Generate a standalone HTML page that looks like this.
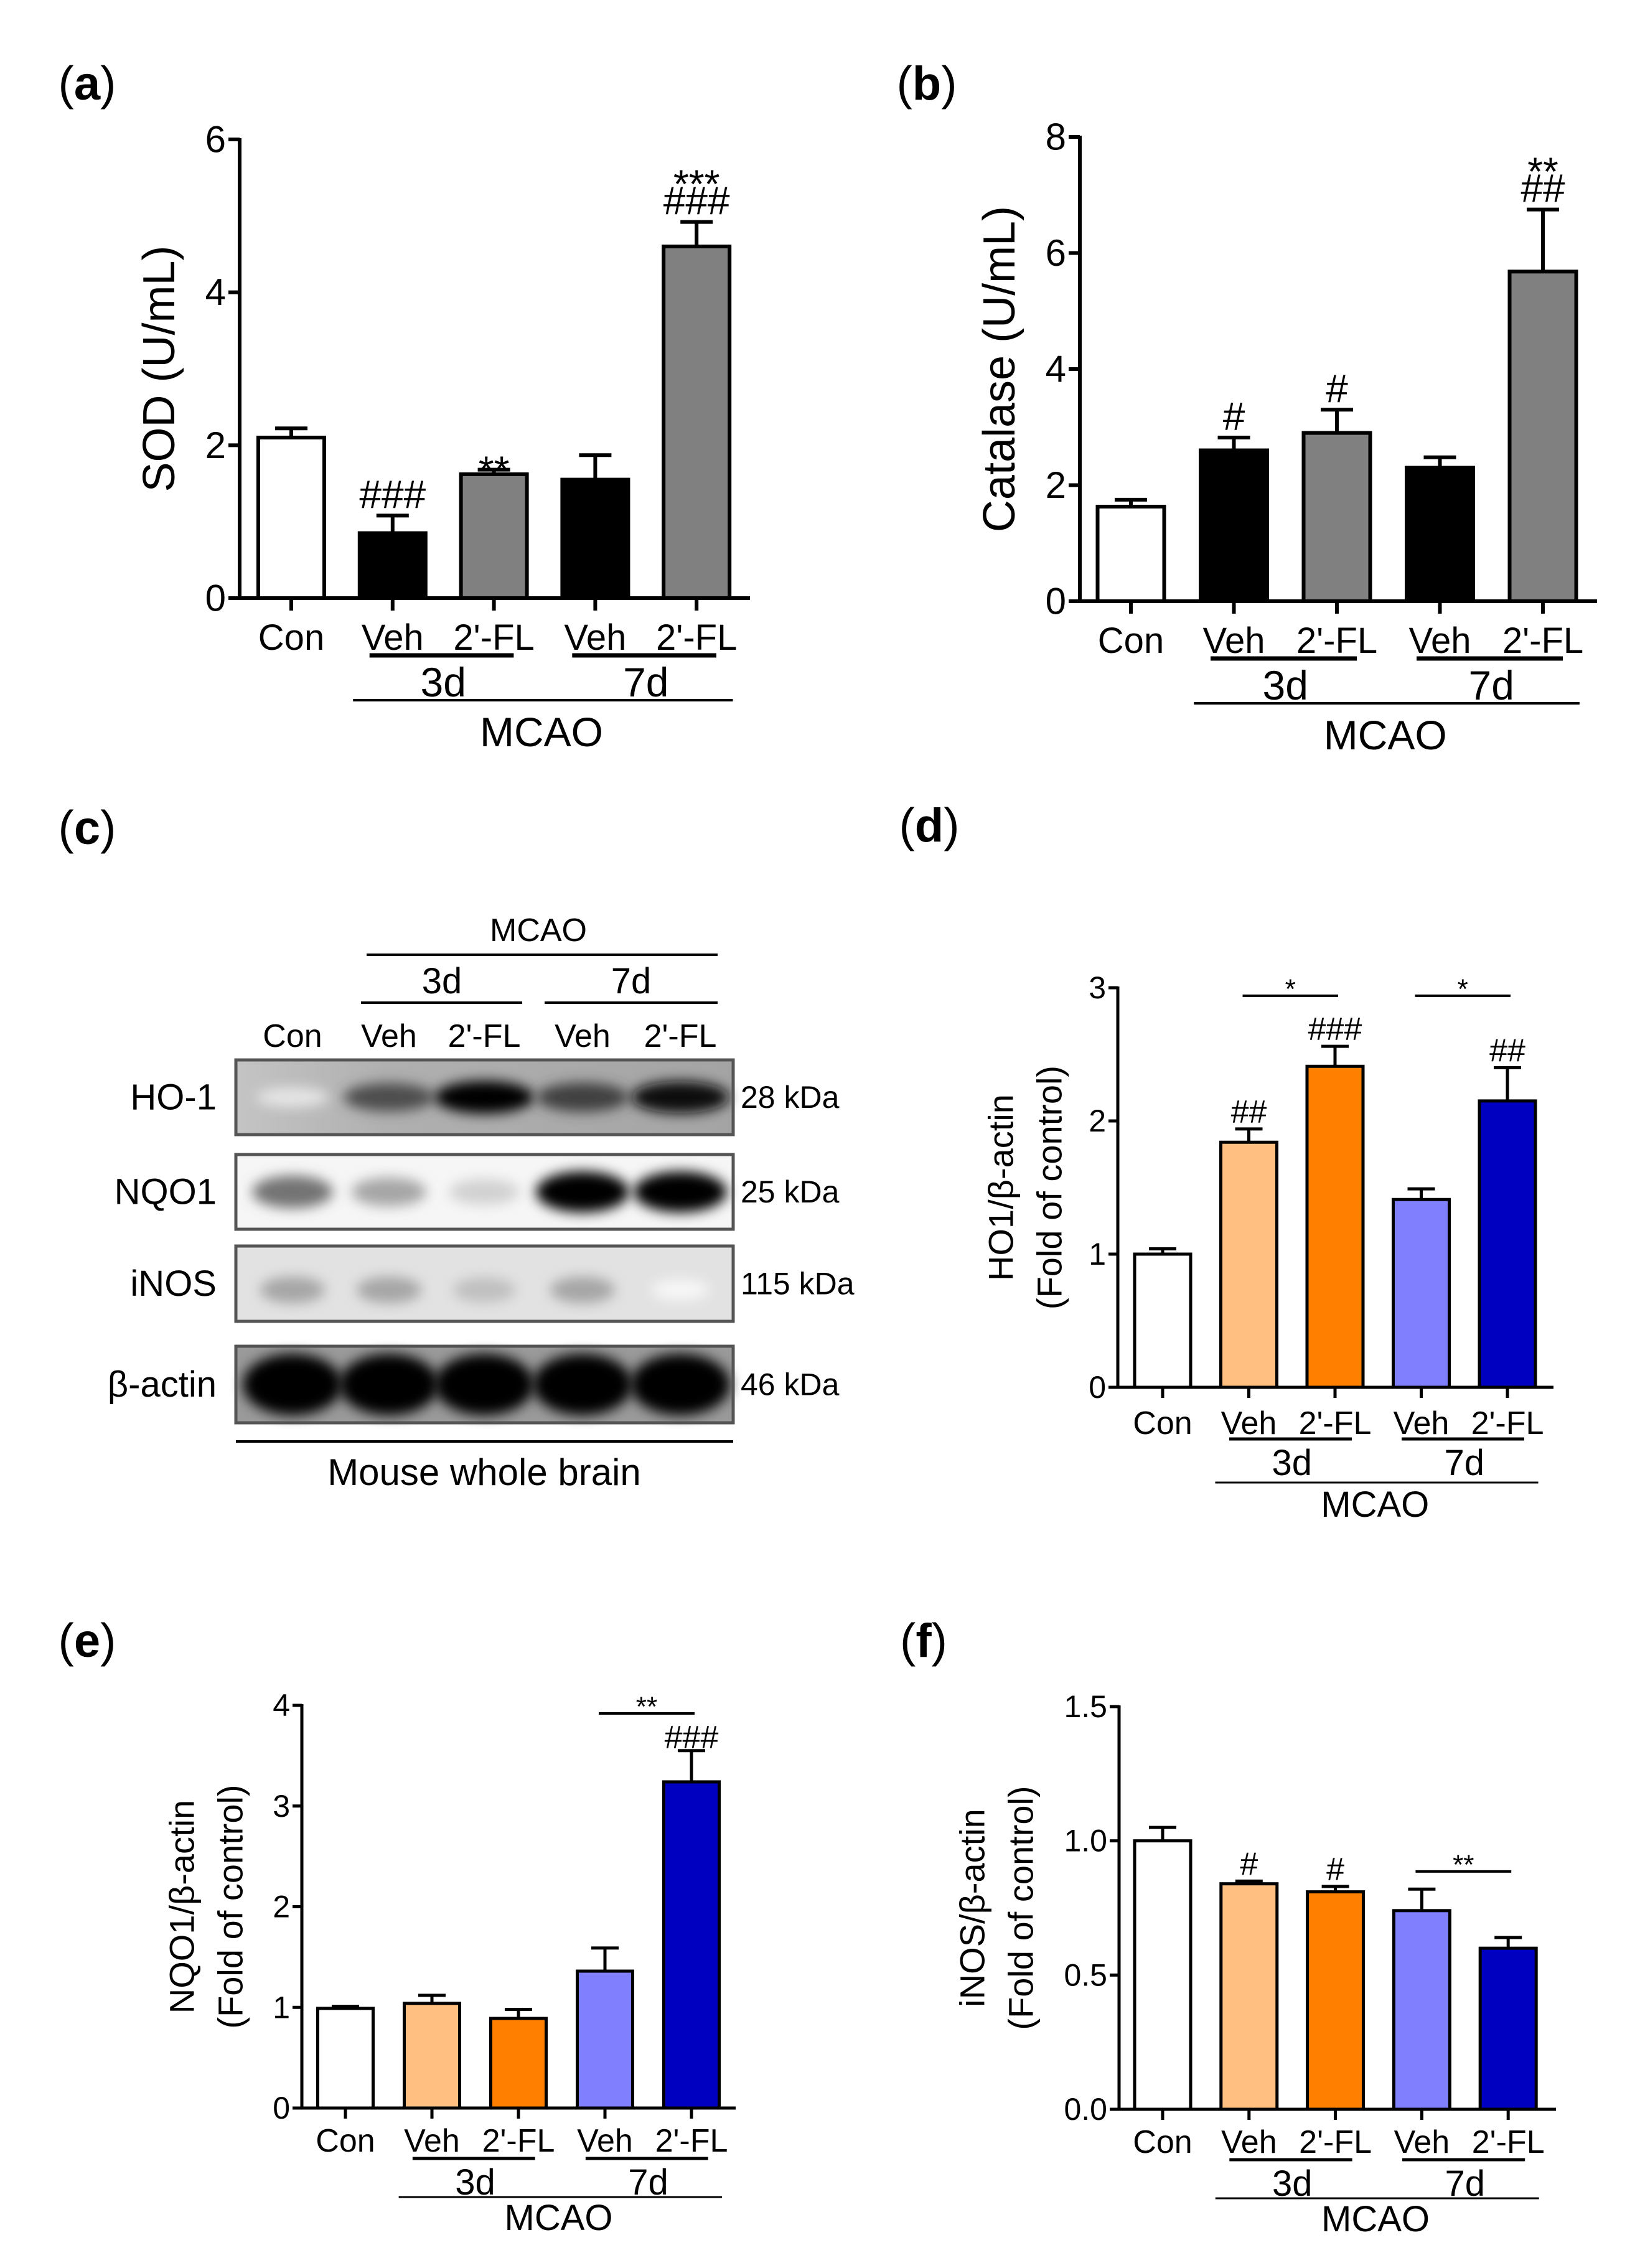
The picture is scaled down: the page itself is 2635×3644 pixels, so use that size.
<!DOCTYPE html>
<html><head><meta charset="utf-8">
<style>
html,body{margin:0;padding:0;background:#fff;}
svg{display:block;font-family:"Liberation Sans",Arial,sans-serif;}
</style></head>
<body>
<svg id="fig" width="2635" height="3644" viewBox="0 0 2635 3644" xmlns="http://www.w3.org/2000/svg">
<defs>
<filter id="blur" x="-50%" y="-50%" width="200%" height="200%"><feGaussianBlur stdDeviation="10"/></filter>
<linearGradient id="hoBg" x1="0" x2="1" y1="0" y2="0"><stop offset="0" stop-color="#c4c4c4"/><stop offset="0.3" stop-color="#b0b0b0"/><stop offset="1" stop-color="#a4a4a4"/></linearGradient>
</defs>
</svg>
<script>
// ---------- data ----------
const groups = ["Con","Veh","2'-FL","Veh","2'-FL"];
const aValues = [2.1, 0.85, 1.62, 1.55, 4.6];
const aErrors = [0.12, 0.23, 0.06, 0.32, 0.32];
const aAnnots = [[], ["###"], ["**"], [], ["###","***"]];
const aTicks = ["0","2","4","6"];
const bValues = [1.63, 2.6, 2.9, 2.3, 5.68];
const bErrors = [0.12, 0.22, 0.4, 0.18, 1.07];
const bAnnots = [[], ["#"], ["#"], [], ["##","**"]];
const bTicks = ["0","2","4","6","8"];
const dValues = [1.0, 1.84, 2.41, 1.41, 2.15];
const dErrors = [0.04, 0.1, 0.15, 0.08, 0.25];
const dAnnots = [[], ["##"], ["###"], [], ["##"]];
const dTicks = ["0","1","2","3"];
const dSig = [[1,2,2.94,"*"],[3,4,2.94,"*"]];
const eValues = [0.99, 1.04, 0.89, 1.36, 3.24];
const eErrors = [0.02, 0.08, 0.09, 0.23, 0.31];
const eAnnots = [[], [], [], [], ["###"]];
const eTicks = ["0","1","2","3","4"];
const eSig = [[3,4,3.92,"**"]];
const fValues = [1.0, 0.84, 0.81, 0.74, 0.6];
const fErrors = [0.05, 0.01, 0.02, 0.08, 0.04];
const fAnnots = [[], ["#"], ["#"], [], []];
const fTicks = ["0.0","0.5","1.0","1.5"];
const fSig = [[3,4,0.886,"**"]];
const blotLanes = ["Con","Veh","2'-FL","Veh","2'-FL"];
const blotProteins = ["HO-1","NQO1","iNOS","β-actin"];
const blotSizes = ["28 kDa","25 kDa","115 kDa","46 kDa"];
const ho1Bands = [0.1, 0.7, 1.0, 0.75, 0.95];
const nqo1Bands = [0.55, 0.35, 0.18, 1.0, 1.0];
const inosBands = [0.35, 0.35, 0.25, 0.35, 0.03];
const actinBands = [1.0, 1.0, 1.0, 1.0, 1.0];

const NS="http://www.w3.org/2000/svg";
const svg=document.getElementById('fig');
function mk(tag, attrs, parent){
  const el=document.createElementNS(NS,tag);
  for(const k in attrs) el.setAttribute(k,attrs[k]);
  (parent||svg).appendChild(el);
  return el;
}
function line(x1,y1,x2,y2,w,name,parent){
  const el=mk('line',{x1,y1,x2,y2,stroke:'#000','stroke-width':w},parent);
  
  
  return el;
}
function text(str,x,y,size,name,opts,parent){
  opts=opts||{};
  const el=mk('text',{x,y,'font-size':size,'text-anchor':opts.anchor||'middle',fill:'#000'},parent);
  if(opts.weight) el.setAttribute('font-weight',opts.weight);
  if(opts.transform) el.setAttribute('transform',opts.transform);
  if(opts.baseline) el.setAttribute('dominant-baseline',opts.baseline);
  el.textContent=str;
  
  
  return el;
}
function panelLabel(letter,cx,cy,size){
  const t=mk('text',{x:cx,y:cy,'font-size':size,'text-anchor':'middle','dominant-baseline':'central',fill:'#000'});
  t.innerHTML='(<tspan font-weight="bold">'+letter+'</tspan>)';
  
  
}

function drawPanel(c){
  const g=mk('g',{});
  
  
  const max=c.max;
  const y=v=>c.y0-(v/max)*(c.y0-c.ytop);
  const x=i=>c.x0+c.first+i*c.pitch;
  c.values.forEach((v,i)=>{
    const r=mk('rect',{x:x(i)-c.bw/2,y:y(v),width:c.bw,height:c.y0-y(v),fill:c.colors[i],stroke:'#000','stroke-width':c.sw},g);
    
    
    const top=y(v+c.errors[i]);
    line(x(i),y(v),x(i),top,c.sw,'error-bar-'+c.id+'-'+i,g);
    line(x(i)-c.cap,top,x(i)+c.cap,top,c.sw,'error-cap-'+c.id+'-'+i,g);
    let cur=top;
    c.annots[i].forEach((s,k)=>{
      let base;
      if(s[0]==='#'){ base=cur-c.gap; cur=base-0.72*c.af-4; }
      else { base=cur+0.36*c.af; cur=base-0.72*c.af+2; }
      text(s,x(i),base,c.af,'annotation-'+c.id+'-'+i+'-'+k,{},g);
    });
  });
  line(c.x0,c.ytop-2,c.x0,c.y0+c.sw/2,c.aw,'y-axis-'+c.id,g);
  line(c.x0-c.tl,c.y0,c.xend,c.y0,c.aw,'x-axis-'+c.id,g);
  c.ticks.forEach((t,i)=>{
    const v=i*(max/(c.ticks.length-1));
    line(c.x0-c.tl,y(v),c.x0,y(v),c.aw,'y-tick-'+c.id+'-'+i,g);
    text(t,c.x0-c.tl-4,y(v),c.tf,'y-tick-label-'+c.id+'-'+i,{anchor:'end',baseline:'central'},g);
  });
  groups.forEach((s,i)=>{
    line(x(i),c.y0,x(i),c.y0+c.tl+2,c.aw,'x-tick-'+c.id+'-'+i,g);
    text(s,x(i),c.y0+c.o.lab,c.lf,'x-label-'+c.id+'-'+i,{},g);
  });
  line(x(1)-c.bw*0.35,c.y0+c.o.ul,x(2)+c.bw*0.3,c.y0+c.o.ul,c.ulw,'underline-3d-'+c.id,g);
  line(x(3)-c.bw*0.35,c.y0+c.o.ul,x(4)+c.bw*0.3,c.y0+c.o.ul,c.ulw,'underline-7d-'+c.id,g);
  text('3d',(x(1)+x(2))/2,c.y0+c.o.d,c.df,'day-label-3d-'+c.id,{},g);
  text('7d',(x(3)+x(4))/2,c.y0+c.o.d,c.df,'day-label-7d-'+c.id,{},g);
  line(x(1)-c.bw*0.6,c.y0+c.o.ml,x(4)+c.bw*0.55,c.y0+c.o.ml,c.mlw,'mcao-line-'+c.id,g);
  text('MCAO',(x(1)+x(4))/2-5,c.y0+c.o.m,c.df,'mcao-label-'+c.id,{},g);
  const cy=(c.y0+c.ytop)/2;
  text(c.title[0],c.tx,cy,c.ttf,'y-axis-title-'+c.id,{baseline:'central',transform:'rotate(-90 '+c.tx+' '+cy+')'},g);
  if(c.title.length>1){
    text(c.title[1],c.tx+c.tgap,cy,c.ttf,'y-axis-subtitle-'+c.id,{baseline:'central',transform:'rotate(-90 '+(c.tx+c.tgap)+' '+cy+')'},g);
  }
  (c.sig||[]).forEach((s,k)=>{
    const yy=y(s[2]);
    const xa=x(s[0])-10, xb=x(s[1])+5;
    line(xa,yy,xb,yy,4,'sig-line-'+c.id+'-'+k,g);
    text(s[3],(xa+xb)/2,yy+4,c.af*0.85,'sig-label-'+c.id+'-'+k,{},g);
  });
}
const grayCols=['#fff','#000','#808080','#000','#808080'];
const colCols=['#fff','#ffbf80','#ff8000','#8080ff','#0000c0'];
const bigO={lab:83,ul:92,d:158,ml:164,m:238};
drawPanel({id:'a',values:aValues,errors:aErrors,annots:aAnnots,ticks:aTicks,max:6,x0:385,xend:1205,y0:961,ytop:224,first:83,pitch:162.8,bw:106,sw:6,aw:6,tl:18,cap:26,colors:grayCols,af:64,gap:12,tf:60,lf:58,df:66,ulw:7,mlw:4,o:bigO,title:['SOD (U/mL)'],tx:256,ttf:72});
drawPanel({id:'b',values:bValues,errors:bErrors,annots:bAnnots,ticks:bTicks,max:8,x0:1735,xend:2566,y0:966,ytop:220,first:82,pitch:165.5,bw:107,sw:6,aw:6,tl:18,cap:26,colors:grayCols,af:64,gap:12,tf:60,lf:58,df:66,ulw:7,mlw:4,o:bigO,title:['Catalase (U/mL)'],tx:1606,ttf:72});
drawPanel({id:'d',values:dValues,errors:dErrors,annots:dAnnots,ticks:dTicks,max:3,x0:1796,xend:2496,y0:2229,ytop:1587,first:72,pitch:138.5,bw:90,sw:5,aw:5,tl:15,cap:22,colors:colCols,af:52,gap:10,tf:50,lf:52,df:58,ulw:5,mlw:3,o:{lab:75,ul:83,d:141,ml:153,m:208},title:['HO1/β-actin','(Fold of control)'],tx:1608,tgap:78,ttf:56,sig:dSig});
drawPanel({id:'e',values:eValues,errors:eErrors,annots:eAnnots,ticks:eTicks,max:4,x0:485,xend:1182,y0:3387,ytop:2740,first:70,pitch:139,bw:89,sw:5,aw:5,tl:15,cap:22,colors:colCols,af:52,gap:4,tf:50,lf:52,df:58,ulw:5,mlw:3,o:{lab:70,ul:81,d:139,ml:143,m:196},title:['NQO1/β-actin','(Fold of control)'],tx:292,tgap:78,ttf:56,sig:eSig});
drawPanel({id:'f',values:fValues,errors:fErrors,annots:fAnnots,ticks:fTicks,max:1.5,x0:1798,xend:2500,y0:3389,ytop:2742,first:70,pitch:138.8,bw:90,sw:5,aw:5,tl:15,cap:22,colors:colCols,af:52,gap:10,tf:50,lf:52,df:58,ulw:5,mlw:3,o:{lab:70,ul:81,d:139,ml:143,m:196},title:['iNOS/β-actin','(Fold of control)'],tx:1562,tgap:78,ttf:56,sig:fSig});

panelLabel('a',140,134,76);
panelLabel('b',1489,134,76);
panelLabel('c',140,1330,76);
panelLabel('d',1493,1326,76);
panelLabel('e',140,2636,76);
panelLabel('f',1484,2636,76);

// ---------- western blot ----------
(function(){
  const g=mk('g',{});
  
  
  const laneX=[470,625,778,936,1093];
  const rows=[
    {y1:1703,y2:1823,bg:'url(#hoBg)',bands:ho1Bands,h:48,w:160},
    {y1:1855,y2:1975,bg:'#f6f6f6',bands:nqo1Bands,h:60,w:150},
    {y1:2002,y2:2123,bg:'#e2e2e2',bands:inosBands,h:55,w:130},
    {y1:2163,y2:2286,bg:'#9a9a9a',bands:actinBands,h:90,w:160}
  ];
  rows.forEach((r,ri)=>{
    const bg=mk('rect',{x:379,y:r.y1,width:799,height:r.y2-r.y1,fill:r.bg},g);
    
    
    const cy=(r.y1+r.y2)/2+(ri===2?10:0);
    r.bands.forEach((d,li)=>{
      const shade=Math.round(255*(1-d));
      const e=mk('ellipse',{cx:laneX[li],cy:cy,rx:r.w/2*(0.7+0.3*d),ry:r.h/2*(0.6+0.5*d),fill:'rgb('+shade+','+shade+','+shade+')',filter:'url(#blur)'},g);
      
      
    });
    const bd=mk('rect',{x:379,y:r.y1,width:799,height:r.y2-r.y1,fill:'none',stroke:'#555','stroke-width':5},g);
    
    
    text(blotProteins[ri],348,(r.y1+r.y2)/2,58,'protein-label-'+ri,{anchor:'end',baseline:'central'},g);
    text(blotSizes[ri],1190,(r.y1+r.y2)/2,50,'kda-label-'+ri,{anchor:'start',baseline:'central'},g);
  });
  blotLanes.forEach((s,i)=>text(s,laneX[i],1682,52,'lane-label-'+i,{},g));
  line(580,1611,839,1611,4,'blot-3d-line',g);
  line(875,1611,1153,1611,4,'blot-7d-line',g);
  text('3d',710,1596,58,'blot-3d-label',{},g);
  text('7d',1014,1596,58,'blot-7d-label',{},g);
  line(589,1534,1153,1534,4,'blot-mcao-line',g);
  text('MCAO',865,1512,52,'blot-mcao-label',{},g);
  line(379,2316,1178,2316,4,'blot-bottom-line',g);
  text('Mouse whole brain',778,2386,60,'blot-caption',{},g);
})();
</script>
</body></html>
